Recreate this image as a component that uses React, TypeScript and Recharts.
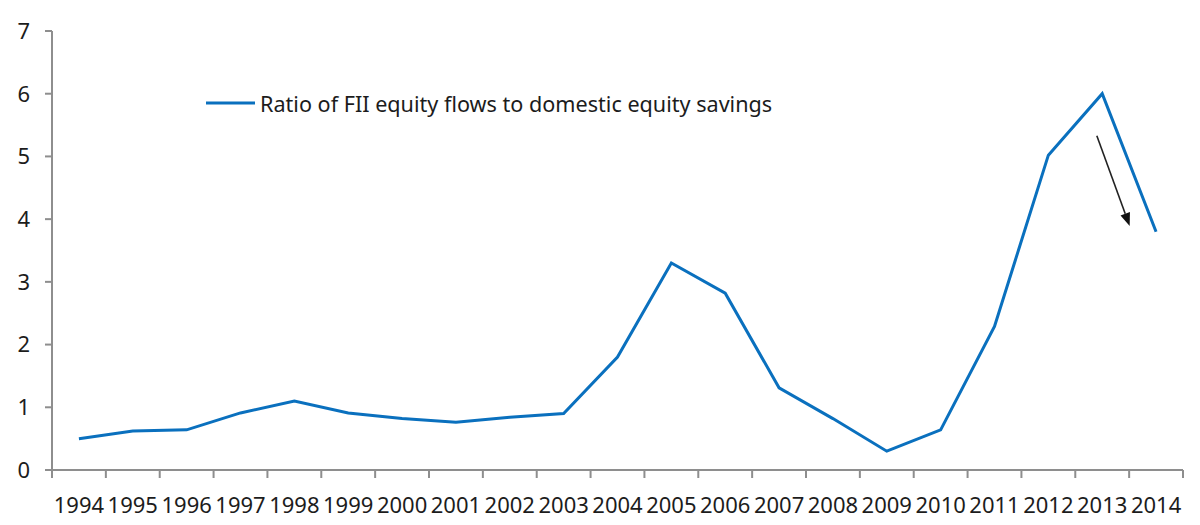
import { LineChart, Line, XAxis, YAxis, ReferenceLine } from 'recharts'

// values
const years = [
  1994, 1995, 1996, 1997, 1998, 1999, 2000, 2001, 2002, 2003, 2004,
  2005, 2006, 2007, 2008, 2009, 2010, 2011, 2012, 2013, 2014,
]
const ratio = [
  0.5, 0.62, 0.64, 0.91, 1.1, 0.91, 0.82, 0.76, 0.84, 0.9, 1.8,
  3.3, 2.82, 1.31, 0.82, 0.3, 0.64, 2.29, 5.02, 6.0, 3.8,
]
const yTicks = [0, 1, 2, 3, 4, 5, 6, 7]
const seriesName = 'Ratio of FII equity flows to domestic equity savings'

// the hand drawn arrow next to the 2013 -> 2014 drop
const arrowFrom = { year: 2012.9, value: 5.33 }
const arrowTo = { year: 2013.51, value: 3.89 }

const BLUE = '#0a70be'
const AXIS = '#8e8e8e'
const INK = '#1c1c1c'
const FONT = '"Noto Sans", sans-serif'

const data = years.map((year, i) => ({ year, ratio: ratio[i] }))

// category boundaries get a tick mark, the years themselves get a label
const xTicks = [
  ...years.flatMap(y => [y - 0.5, y]),
  years[years.length - 1] + 0.5,
]

const YearTick = ({ x, y, payload }: any) => {
  const v = payload.value
  if (!Number.isInteger(v)) {
    return <line x1={x} x2={x} y1={y} y2={y + 8} stroke={AXIS} strokeWidth={2} />
  }
  return (
    <text x={x} y={y + 27} dy="0.71em" textAnchor="middle"
      fontFamily={FONT} fontSize={22} fill={INK}>
      {v}
    </text>
  )
}

const ArrowShape = ({ x1, y1, x2, y2 }: any) => {
  const a = Math.atan2(y2 - y1, x2 - x1)
  const len = 13
  const half = 5
  const bx = x2 - len * Math.cos(a)
  const by = y2 - len * Math.sin(a)
  const px = half * Math.sin(a)
  const py = half * Math.cos(a)
  return (
    <g>
      <line x1={x1} y1={y1} x2={bx} y2={by} stroke="#222" strokeWidth={1.6} />
      <polygon
        points={`${x2},${y2} ${bx + px},${by - py} ${bx - px},${by + py}`}
        fill="#111"
      />
    </g>
  )
}

export default function App() {
  return (
    <div style={{ position: 'relative', width: 1192, height: 517 }}>
      <LineChart
        width={1192}
        height={517}
        data={data}
        margin={{ top: 23, right: 17, left: 0, bottom: 0 }}
      >
        <XAxis
          dataKey="year"
          type="number"
          domain={[years[0] - 0.5, years[years.length - 1] + 0.5]}
          ticks={xTicks}
          interval={0}
          tick={<YearTick />}
          tickLine={false}
          tickSize={0}
          tickMargin={0}
          height={55}
          axisLine={{ stroke: AXIS, strokeWidth: 2 }}
        />
        <YAxis
          domain={[0, 7]}
          ticks={yTicks}
          width={44}
          tickSize={7}
          tickMargin={15}
          tick={{ fontFamily: FONT, fontSize: 22, fill: INK }}
          tickLine={{ stroke: AXIS, strokeWidth: 2 }}
          axisLine={{ stroke: AXIS, strokeWidth: 2 }}
        />
        <Line
          dataKey="ratio"
          name={seriesName}
          stroke={BLUE}
          strokeWidth={3}
          dot={false}
          activeDot={false}
          isAnimationActive={false}
        />
        <ReferenceLine
          segment={[
            { x: arrowFrom.year, y: arrowFrom.value },
            { x: arrowTo.year, y: arrowTo.value },
          ]}
          shape={<ArrowShape />}
        />
      </LineChart>
      <div
        style={{
          position: 'absolute', left: 198, top: 80, height: 30,
          display: 'flex', alignItems: 'center',
          fontFamily: FONT, fontSize: 21.6, color: INK, whiteSpace: 'nowrap',
        }}
      >
        <svg width={54} height={30}>
          <line x1={0} x2={49} y1={15} y2={15} stroke={BLUE} strokeWidth={3} />
        </svg>
        <span>{seriesName}</span>
      </div>
    </div>
  )
}
